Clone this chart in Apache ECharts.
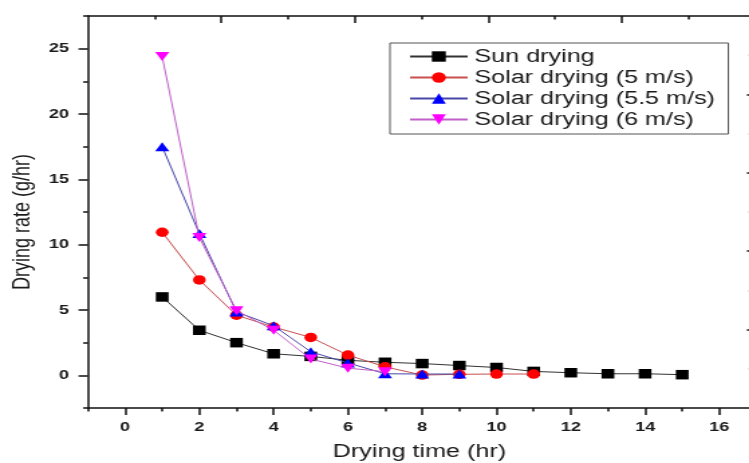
<!DOCTYPE html>
<html><head><meta charset="utf-8">
<script src="https://cdn.jsdelivr.net/npm/echarts@6/dist/echarts.min.js"></script>
<style>
html,body{margin:0;padding:0;background:#fff;overflow:hidden;width:749px;height:463px}
#c{width:559px;height:463px;transform:scaleX(1.34);transform-origin:0 0;}
</style>
</head><body><div id="c"></div>
<script>
// ---- data ----
const dryingTime = [1, 2, 3, 4, 5, 6, 7, 8, 9, 10, 11, 12, 13, 14, 15];
const sunDrying  = [6.0, 3.45, 2.5, 1.65, 1.45, 1.15, 1.0, 0.9, 0.75, 0.6, 0.3, 0.2, 0.12, 0.12, 0.05];
const solar5     = [10.95, 7.3, 4.6, 3.7, 2.9, 1.55, 0.65, 0.02, 0.08, 0.1, 0.1];
const solar55    = [17.5, 10.85, 4.85, 3.8, 1.8, 0.95, 0.12, 0.1, 0.1];
const solar6     = [24.4, 10.55, 4.95, 3.45, 1.25, 0.55, 0.28];
const seriesNames = ['Sun drying', 'Solar drying (5 m/s)', 'Solar drying (5.5 m/s)', 'Solar drying (6 m/s)'];
const xMajorTicks = [0, 2, 4, 6, 8, 10, 12, 14, 16];
const xMinorTicks = [-1, 1, 3, 5, 7, 9, 11, 13, 15];
const yMajorTicks = [0, 5, 10, 15, 20, 25];
const yMinorTicks = [-2.5, 2.5, 7.5, 12.5, 17.5, 22.5, 27.5];
const topMajorTicks = [1, 2, 3, 4];
const topMinorTicks = [0.5, 1.5, 2.5, 3.5, 4.5];
const rightMajorTicks = [2, 4, 6, 8];
const rightMinorTicks = [1, 3, 5, 7, 9];

function pairs(vals) { return vals.map((v, i) => [dryingTime[i], v]); }

const FONT = 'Liberation Sans, Arial, sans-serif';
const axisLineStyle = { color: '#111', width: 1.5 };

const chart = echarts.init(document.getElementById('c'), null, { renderer: 'canvas' });

const grid = { left: 65.6, top: 16, width: 494.8, bottom: 55, containLabel: false, outerBoundsMode: 'none' };

function tickOnlyX(pos, min, max, values, len, inside, showLine) {
  return {
    type: 'value', position: pos, min: min, max: max,
    axisLine: { show: showLine, onZero: false, lineStyle: axisLineStyle },
    axisTick: { show: true, inside: inside, length: len, customValues: values, lineStyle: { color: '#111', width: 1.5 } },
    axisLabel: { show: false }, splitLine: { show: false }
  };
}
function tickOnlyY(pos, min, max, values, len, inside, showLine, color) {
  return {
    type: 'value', position: pos, min: min, max: max,
    axisLine: { show: showLine, onZero: false, lineStyle: axisLineStyle },
    axisTick: { show: true, inside: inside, length: len, customValues: values, lineStyle: { color: color || '#111', width: 1.5 } },
    axisLabel: { show: false }, splitLine: { show: false }
  };
}

const option = {
  backgroundColor: '#fff',
  animation: false,
  textStyle: { fontFamily: FONT },
  grid: grid,
  legend: {
    left: 291, top: 43, orient: 'vertical',
    data: seriesNames,
    backgroundColor: '#fff',
    borderColor: '#555', borderWidth: 1, borderRadius: 0,
    padding: [3, 10, 4, 14],
    itemGap: 0, itemWidth: 43, itemHeight: 13,
    textStyle: { fontFamily: FONT, fontSize: 18.8, color: '#1a1a1a', lineHeight: 21, padding: [0, 0, 0, 0] }
  },
  xAxis: [
    {
      type: 'value', position: 'bottom', min: -1, max: 16.85,
      name: 'Drying time (hr)', nameLocation: 'middle', nameGap: 34,
      nameTextStyle: { fontFamily: FONT, fontSize: 18.8, color: '#1a1a1a' },
      axisLine: { show: true, onZero: false, lineStyle: axisLineStyle },
      axisTick: { show: true, inside: false, length: 7, customValues: xMajorTicks, lineStyle: { color: '#111', width: 1.5 } },
      axisLabel: { show: true, customValues: xMajorTicks, margin: 12, fontFamily: FONT, fontWeight: 'bold', fontSize: 13.5, color: '#1a1a1a' },
      splitLine: { show: false }
    },
    tickOnlyX('bottom', -1, 16.85, xMinorTicks, 3.5, false, false),
    tickOnlyX('top', 0, 4.97, topMajorTicks, 7, true, true),
    tickOnlyX('top', 0, 4.97, topMinorTicks, 3.5, true, false)
  ],
  yAxis: [
    {
      type: 'value', position: 'left', min: -2.5, max: 27.5,
      name: 'Drying rate (g/hr)', nameLocation: 'middle', nameGap: 38,
      nameTextStyle: { fontFamily: FONT, fontSize: 18, color: '#1a1a1a', padding: [0, 20, 0, 0] },
      axisLine: { show: true, onZero: false, lineStyle: axisLineStyle },
      axisTick: { show: true, inside: false, length: 7, customValues: yMajorTicks, lineStyle: { color: '#111', width: 1.5 } },
      axisLabel: { show: true, customValues: yMajorTicks, margin: 14, fontFamily: FONT, fontWeight: 'bold', fontSize: 13.5, color: '#1a1a1a' },
      splitLine: { show: false }
    },
    tickOnlyY('left', -2.5, 27.5, yMinorTicks, 3.5, false, false),
    tickOnlyY('right', 0, 10, rightMajorTicks, 3, true, false),
    tickOnlyY('right', 0, 10, rightMinorTicks, 2, true, false, '#ccc')
  ],
  series: [
    {
      name: seriesNames[0], type: 'line', data: pairs(sunDrying), xAxisIndex: 0, yAxisIndex: 0,
      symbol: 'rect', symbolSize: [9.5, 9.5],
      lineStyle: { color: '#333', width: 1 }, itemStyle: { color: '#000' }, z: 2
    },
    {
      name: seriesNames[1], type: 'line', data: pairs(solar5), xAxisIndex: 0, yAxisIndex: 0,
      symbol: 'circle', symbolSize: [9.5, 9.5],
      lineStyle: { color: '#c85050', width: 1 }, itemStyle: { color: '#ff0000' }, z: 3
    },
    {
      name: seriesNames[2], type: 'line', data: pairs(solar55), xAxisIndex: 0, yAxisIndex: 0,
      symbol: 'triangle', symbolSize: [10.5, 9],
      lineStyle: { color: '#4848a8', width: 1 }, itemStyle: { color: '#0000ff' }, z: 4
    },
    {
      name: seriesNames[3], type: 'line', data: pairs(solar6), xAxisIndex: 0, yAxisIndex: 0,
      symbol: 'triangle', symbolRotate: 180, symbolSize: [10.5, 9],
      lineStyle: { color: '#c060c8', width: 1 }, itemStyle: { color: '#ff00ff' }, z: 5
    }
  ]
};
chart.setOption(option);
</script>
</body></html>
